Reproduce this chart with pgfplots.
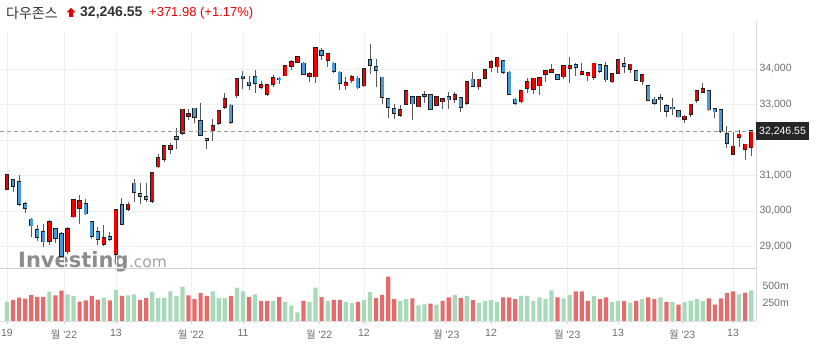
\documentclass[border=0pt]{standalone}
\usepackage{pgfplots}
\pgfplotsset{compat=1.18}
\usepackage{pgfplotstable}
\usepackage{fontspec}
\setmainfont{Liberation Sans}
\newfontfamily\cjk{Noto Sans CJK KR}
\newfontfamily\wmfont{DejaVu Sans}
\definecolor{upred}{HTML}{F40000}
\definecolor{dnblue}{HTML}{4A9AD8}
\definecolor{outl}{HTML}{1E1E1E}
\definecolor{wick}{HTML}{5A5A5A}
\definecolor{vgreen}{HTML}{A8D9B8}
\definecolor{vred}{HTML}{E66B6B}
\definecolor{lbl}{HTML}{6E6E6E}
\definecolor{gridc}{HTML}{F0F0F0}
\definecolor{titlec}{HTML}{333333}
\definecolor{chgred}{HTML}{E60000}
\definecolor{boxc}{HTML}{262626}
\definecolor{wmc}{HTML}{8C8C8C}
\definecolor{linec}{HTML}{D0D0D0}
\newcommand\mon[1]{{\cjk 월} \textquotesingle#1}
\pgfplotsset{candle/.style={only marks, mark=*, mark size=0pt, mark options={draw=none, fill=none}, forget plot,
  error bars/y dir=both, error bars/y explicit, error bars/error mark=none}}

\pgfplotstableread{
i o h l c v g
0 30620 31040 30600 31019 273 1
1 30873 30900 30530 30706 297 0
2 30825 31014 30150 30184 329 0
3 30200 30250 29950 30077 315 0
4 29766 29800 29280 29590 367 0
5 29470 29600 29150 29261 339 0
6 29410 29620 28990 29135 339 0
7 29150 29750 29050 29684 414 1
8 29490 29520 29090 29226 362 0
9 29350 29400 28700 28726 428 0
10 28855 29560 28800 29491 376 1
11 29840 30330 29800 30316 353 1
12 30090 30450 29620 30274 273 0
13 30200 30330 29880 29927 292 0
14 29700 29720 29200 29297 353 0
15 29420 29540 29050 29203 301 0
16 29070 29600 29000 29239 329 1
17 29260 29420 29160 29211 292 0
18 28790 30040 28660 30039 438 1
19 30170 30360 29600 29635 353 0
20 30060 30250 30000 30186 363 1
21 30780 30890 30260 30524 377 1
22 30480 30780 30200 30424 299 0
23 30400 30800 30250 30334 323 0
24 30280 31100 30230 31083 407 1
25 31250 31610 31200 31500 323 1
26 31460 31860 31380 31837 323 1
27 31740 31910 31610 31839 417 1
28 32080 32350 31750 32033 353 1
29 32190 32880 32130 32862 480 1
30 32680 32860 32560 32733 363 0
31 32890 32900 32470 32653 309 0
32 32540 33050 32130 32148 392 0
33 32040 32060 31740 32001 353 0
34 32262 32580 31960 32403 417 1
35 32470 32850 32420 32827 323 1
36 32920 33330 32880 33161 323 1
37 32977 33020 32460 32514 353 0
38 33248 33720 33175 33715 470 1
39 33790 33930 33450 33748 417 1
40 33625 33790 33400 33537 338 0
41 33783 33970 33315 33593 377 1
42 33484 33660 33450 33554 284 0
43 33287 33560 33230 33546 284 0
44 33577 33830 33500 33746 284 1
45 33738 33780 33570 33700 338 0
46 33811 34110 33790 34098 270 1
47 34085 34250 33972 34194 216 1
48 34188 34360 34180 34347 122 1
49 34160 34200 33820 33849 284 0
50 33803 33924 33643 33853 270 1
51 33783 34600 33597 34590 470 1
52 34507 34600 34250 34395 338 0
53 34253 34450 34047 34430 284 1
54 34160 34200 33880 33947 299 0
55 33907 33950 33408 33596 299 0
56 33530 33766 33408 33598 270 1
57 33670 33830 33600 33781 255 1
58 33738 33800 33450 33476 270 0
59 33530 34010 33500 34005 299 1
60 34253 34712 33850 34109 407 1
61 34066 34290 33500 33966 323 0
62 33766 33770 33006 33202 368 0
63 33155 33170 32628 32920 627 0
64 32865 33006 32592 32758 309 0
65 32704 32980 32639 32850 284 1
66 33014 33400 32990 33376 309 1
67 33203 33230 32563 33027 319 0
68 32938 33230 32930 33204 221 1
69 33268 33380 33034 33242 235 1
70 33268 33300 32860 32876 245 0
71 32986 33240 32960 33221 230 1
72 33079 33170 32865 33147 284 0
73 33203 33361 32865 33136 333 0
74 33155 33361 33050 33270 368 1
75 33175 33200 32797 32930 328 0
76 33034 33650 32990 33631 353 1
77 33710 33907 33490 33518 294 0
78 33502 33720 33408 33704 255 1
79 33738 33990 33720 33973 284 1
80 34036 34253 33924 34190 294 1
81 34066 34340 33900 34303 270 1
82 34225 34260 33850 33911 333 0
83 33907 33930 33280 33297 333 0
84 33146 33175 32980 33045 309 0
85 33079 33380 33030 33375 353 1
86 33456 33755 33315 33630 353 1
87 33437 33750 33290 33734 284 1
88 33530 33760 33268 33744 333 1
89 33859 33960 33643 33949 309 1
90 33907 34132 33880 33978 431 1
91 33831 33840 33700 33717 333 0
92 33783 34090 33720 34086 319 1
93 34020 34330 33597 34093 368 1
94 34113 34160 33803 34054 417 0
95 33859 34160 33820 33926 417 0
96 33811 33920 33662 33891 284 0
97 33766 34170 33690 34157 353 1
98 34113 34150 33900 33949 309 0
99 34085 34206 33620 33700 333 0
100 33643 33880 33600 33869 270 1
101 33879 34260 33860 34246 284 1
102 34141 34330 33890 34089 284 0
103 34000 34140 33900 34128 255 1
104 33953 33980 33660 33697 284 0
105 33643 33850 33540 33827 309 1
106 33521 33530 33100 33130 333 0
107 33146 33220 32986 33045 309 0
108 33180 33300 32797 33154 333 1
109 32966 33000 32657 32817 270 0
110 32920 33175 32700 32889 270 1
111 32817 32830 32620 32657 230 0
112 32583 32704 32487 32662 270 1
113 32724 33020 32657 33004 284 1
114 33127 33400 33051 33391 309 1
115 33352 33597 33340 33431 284 1
116 33389 33400 32830 32856 319 0
117 32880 32900 32611 32798 230 0
118 32845 32860 32200 32255 319 0
119 32161 32394 31766 31910 392 0
120 31606 32234 31580 31819 417 0
121 32076 32282 31811 32155 377 1
122 31746 31900 31437 31875 402 0
123 31794 32260 31550 32247 431 1
}\data

\begin{document}
\begin{tikzpicture}
\useasboundingbox (0pt,0pt) rectangle (816pt,351pt);
% watermark
\node[anchor=base west, inner sep=0, text=wmc, font=\wmfont\bfseries\fontsize{21}{21}\selectfont] (inv) at (18pt,84pt) {Investing};
\node[anchor=base west, inner sep=0, text=wmc!80, font=\wmfont\fontsize{15.5}{16}\selectfont] at (inv.base east) {.com};
% price panel
\begin{axis}[
  at={(0pt,83pt)}, anchor=south west, scale only axis,
  width=756pt, height=236pt,
  xmin=-1.157, xmax=123.8, ymin=28394, ymax=35042,
  axis line style={draw=none},
  scaled y ticks=false,
  xtick={0,9.42,18,30.4,39,51.6,59,72.6,80,92.6,101,111.6,120},
  xticklabels={},
  ytick={29000,30000,31000,33000,34000},
  yticklabels={{29,000},{30,000},{31,000},{33,000},{34,000}},
  extra y ticks={32000}, extra y tick labels={},
  extra y tick style={grid=major, tick style={draw=none}},
  yticklabel pos=right,
  yticklabel style={font=\fontsize{10.5}{12}\selectfont, text=lbl},
  tick style={draw=none},
  grid=major, major grid style={draw=gridc, line width=0.8pt},
]
\addplot[candle, error bars/error bar style={draw=wick, line width=1pt}]
  table[x=i, y expr={0.5*(\thisrow{h}+\thisrow{l})}, y error expr={0.5*(\thisrow{h}-\thisrow{l})}] {\data};
\addplot[candle, error bars/error bar style={draw=outl, line width=4.3pt}]
  table[x=i, y expr={0.5*(\thisrow{o}+\thisrow{c})}, y error expr={0.5*abs(\thisrow{c}-\thisrow{o})+22}] {\data};
\addplot[candle, restrict expr to domain={\thisrow{c}-\thisrow{o}}{0:100000}, error bars/error bar style={draw=upred, line width=2.9pt}]
  table[x=i, y expr={0.5*(\thisrow{o}+\thisrow{c})}, y error expr={0.5*abs(\thisrow{c}-\thisrow{o})}] {\data};
\addplot[candle, restrict expr to domain={\thisrow{c}-\thisrow{o}}{-100000:0}, error bars/error bar style={draw=dnblue, line width=2.9pt}]
  table[x=i, y expr={0.5*(\thisrow{o}+\thisrow{c})}, y error expr={0.5*abs(\thisrow{c}-\thisrow{o})}] {\data};
\addplot[draw=black!40, line width=1.2pt, dash pattern=on 4pt off 3pt, mark=none] coordinates {(-1.157,32246.55) (123.8,32246.55)};
\coordinate (lastp) at (axis cs:123.8,32246.55);
\end{axis}
% volume panel
\begin{axis}[
  at={(0pt,30pt)}, anchor=south west, scale only axis,
  width=756pt, height=53pt,
  xmin=-1.157, xmax=123.8, ymin=0, ymax=748,
  axis line style={draw=none},
  ybar, bar width=4.2pt,
  xtick={0,9.42,18,30.4,39,51.6,59,72.6,80,92.6,101,111.6,120},
  xticklabels={19,\mon{22},13,\mon{22},11,\mon{22},12,\mon{23},12,\mon{23},13,\mon{23},13},
  xticklabel style={font=\fontsize{10.5}{12}\selectfont, text=lbl, yshift=-2pt},
  xtick pos=left, tick align=outside, major tick length=3pt,
  xtick style={draw=linec, line width=0.8pt},
  ytick={250,500}, yticklabels={250m,500m},
  yticklabel pos=right,
  yticklabel style={font=\fontsize{10.5}{12}\selectfont, text=lbl},
  ytick style={draw=none},
  xmajorgrids, major grid style={draw=gridc, line width=0.8pt},
]
\addplot[fill=vgreen, draw=none, bar shift=0pt, restrict expr to domain={\thisrow{g}}{0.5:1.5}] table[x=i, y=v] {\data};
\addplot[fill=vred, draw=none, bar shift=0pt, restrict expr to domain={\thisrow{g}}{-0.5:0.5}] table[x=i, y=v] {\data};
\end{axis}
% frame lines
\draw[linec, line width=1pt] (0pt,83pt) -- (756pt,83pt);
\draw[linec!70, line width=0.8pt] (0pt,30pt) -- (756pt,30pt);
\draw[linec!80, line width=0.8pt] (756pt,30pt) -- (756pt,330pt);
% last price label
\node[fill=boxc, text=white, font=\fontsize{10.5}{12}\selectfont, anchor=west, inner xsep=3pt, inner ysep=0pt, minimum height=18pt] at (lastp) {32,246.55};
% title
\node[anchor=west, inner sep=0, text=titlec, font=\cjk\fontsize{14}{14}\selectfont] at (6pt,338pt) {다우존스};
\fill[chgred] (71pt,343pt) -- (75.5pt,338.5pt) -- (73pt,338.5pt) -- (73pt,334pt) -- (69pt,334pt) -- (69pt,338.5pt) -- (66.5pt,338.5pt) -- cycle;
\node[anchor=west, inner sep=0, text=titlec, font=\bfseries\fontsize{14}{14}\selectfont] at (80pt,338pt) {32,246.55};
\node[anchor=west, inner sep=0, text=chgred, font=\fontsize{13}{14}\selectfont] at (149pt,338pt) {+371.98 (+1.17\%)};
\end{tikzpicture}
\end{document}
